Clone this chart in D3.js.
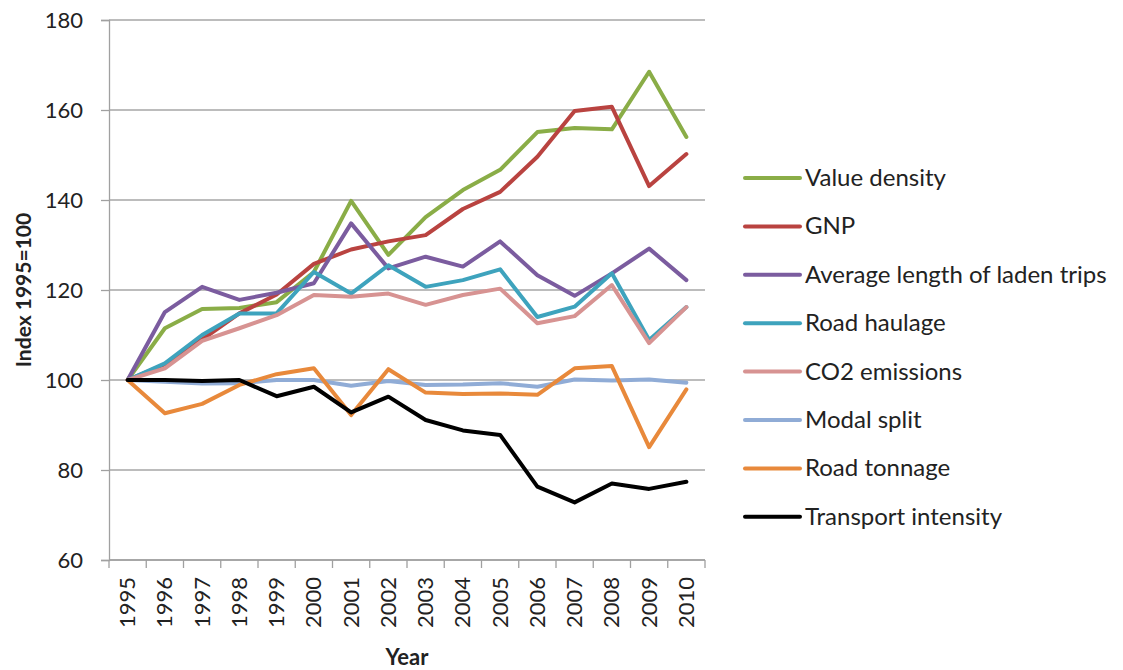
<!DOCTYPE html>
<html>
<head>
<meta charset="utf-8">
<script src="https://cdn.jsdelivr.net/npm/d3@7"></script>
<style>
  body { margin: 0; background: #fff; }
  svg { display: block; font-family: Lato, "Liberation Sans", Arial, sans-serif; }
</style>
</head>
<body>
<div id="chart"></div>
<script>
var years = ["1995", "1996", "1997", "1998", "1999", "2000", "2001", "2002",
    "2003", "2004", "2005", "2006", "2007", "2008", "2009", "2010"];

var seriesNames = ["Value density", "GNP", "Average length of laden trips", "Road haulage",
    "CO2 emissions", "Modal split", "Road tonnage", "Transport intensity"];

var seriesColors = ["#8aad47", "#b94340", "#7b5c9f", "#3ea3bd", "#d79392", "#90acd6", "#e8893b", "#000000"];

var valueDensity = [100, 111.5, 115.8, 116, 117.3, 124, 139.8, 127.8, 136.2, 142.2, 146.7, 155.1, 156, 155.7, 168.5, 154];
var gnp = [100, 103.5, 109, 114.8, 119, 125.8, 129, 130.8, 132.2, 138, 141.8, 149.6, 159.8, 160.7, 143.1, 150.2];
var avgLength = [100, 115.1, 120.7, 117.8, 119.4, 121.5, 134.8, 124.8, 127.4, 125.2, 130.8, 123.3, 118.7, 123.7, 129.2, 122.2];
var roadHaulage = [100, 103.7, 110, 114.8, 114.8, 124, 119.2, 125.5, 120.7, 122.2, 124.6, 114, 116.3, 123.7, 108.9, 116.2];
var co2 = [100, 102.6, 108.7, 111.5, 114.4, 118.9, 118.5, 119.2, 116.7, 118.9, 120.3, 112.6, 114.2, 121.1, 108.2, 116.2];
var modalSplit = [100, 99.6, 99.2, 99.3, 100, 100, 98.7, 99.8, 98.9, 99, 99.3, 98.5, 100.1, 99.9, 100.1, 99.4];
var roadTonnage = [100, 92.6, 94.7, 98.9, 101.3, 102.6, 92.2, 102.4, 97.2, 96.9, 97, 96.7, 102.6, 103.1, 85.1, 97.9];
var transportIntensity = [100, 100, 99.8, 100, 96.4, 98.5, 92.8, 96.3, 91.1, 88.8, 87.8, 76.3, 72.8, 77, 75.8, 77.4];

var yTicks = [60, 80, 100, 120, 140, 160, 180];

var allSeries = [valueDensity, gnp, avgLength, roadHaulage, co2, modalSplit, roadTonnage, transportIntensity];

var width = 1123, height = 670;
var margin = {top: 20, left: 109, right: 418, bottom: 110};

var svg = d3.select("#chart").append("svg")
    .attr("width", width)
    .attr("height", height);

var x = d3.scaleBand()
    .domain(years)
    .range([margin.left, width - margin.right]);

var y = d3.scaleLinear()
    .domain([60, 180])
    .range([height - margin.bottom, margin.top]);

// gridlines
svg.append("g")
    .selectAll("line")
    .data(yTicks)
    .enter()
    .append("line")
    .attr("x1", margin.left)
    .attr("x2", width - margin.right)
    .attr("y1", d => y(d))
    .attr("y2", d => y(d))
    .attr("stroke", "#a6a6a6")
    .attr("stroke-width", 1.3);

// y axis
var yAxis = svg.append("g")
    .attr("transform", "translate(" + margin.left + ",0)")
    .call(d3.axisLeft(y).tickValues(yTicks).tickSize(8).tickPadding(18));
yAxis.select(".domain").attr("stroke", "#a0a0a0").attr("stroke-width", 1.3);
yAxis.selectAll(".tick line").attr("stroke", "#a0a0a0").attr("stroke-width", 1.3);
yAxis.selectAll("text")
    .attr("font-size", "22px")
    .attr("fill", "#222")
    .style("font-family", "Lato, 'Liberation Sans', Arial, sans-serif");

// x axis: category boundaries as ticks
var xAxisG = svg.append("g")
    .attr("transform", "translate(0," + (height - margin.bottom) + ")");
xAxisG.append("line")
    .attr("x1", margin.left)
    .attr("x2", width - margin.right)
    .attr("stroke", "#a0a0a0")
    .attr("stroke-width", 1.3);
xAxisG.selectAll(".bt")
    .data(years.concat(["end"]))
    .enter()
    .append("line")
    .attr("x1", (d, i) => margin.left + i * x.step())
    .attr("x2", (d, i) => margin.left + i * x.step())
    .attr("y1", 0)
    .attr("y2", 8)
    .attr("stroke", "#a0a0a0")
    .attr("stroke-width", 1.3);
xAxisG.selectAll("text")
    .data(years)
    .enter()
    .append("text")
    .attr("transform", d => "translate(" + (x(d) + x.bandwidth() / 2 + 7.5) + ",17) rotate(-90)")
    .attr("text-anchor", "end")
    .attr("font-size", "22px")
    .attr("fill", "#222")
    .text(d => d);

// axis titles
svg.append("text")
    .attr("transform", "translate(31," + y(120) + ") rotate(-90)")
    .attr("text-anchor", "middle")
    .attr("font-size", "21px")
    .attr("font-weight", "bold")
    .attr("fill", "#222")
    .text("Index 1995=100");

svg.append("text")
    .attr("x", 407)
    .attr("y", 665)
    .attr("text-anchor", "middle")
    .attr("font-size", "22px")
    .attr("font-weight", "bold")
    .attr("fill", "#222")
    .text("Year");

// lines
var line = d3.line()
    .x((d, i) => x(years[i]) + x.bandwidth() / 2)
    .y(d => y(d));

svg.append("g")
    .selectAll("path")
    .data(allSeries)
    .enter()
    .append("path")
    .attr("d", line)
    .attr("fill", "none")
    .attr("stroke", (d, i) => seriesColors[i])
    .attr("stroke-width", 4)
    .attr("stroke-linejoin", "round")
    .attr("stroke-linecap", "round");

// legend
var legend = svg.append("g")
    .attr("transform", "translate(745,178)");

var item = legend.selectAll("g")
    .data(seriesNames)
    .enter()
    .append("g")
    .attr("transform", (d, i) => "translate(0," + i * 48.4 + ")");

item.append("line")
    .attr("x1", 0)
    .attr("x2", 55)
    .attr("stroke", (d, i) => seriesColors[i])
    .attr("stroke-width", 4)
    .attr("stroke-linecap", "round");

item.append("text")
    .attr("x", 60)
    .attr("y", 8)
    .attr("font-size", "24px")
    .attr("fill", "#222")
    .text(d => d);
</script>
</body>
</html>
